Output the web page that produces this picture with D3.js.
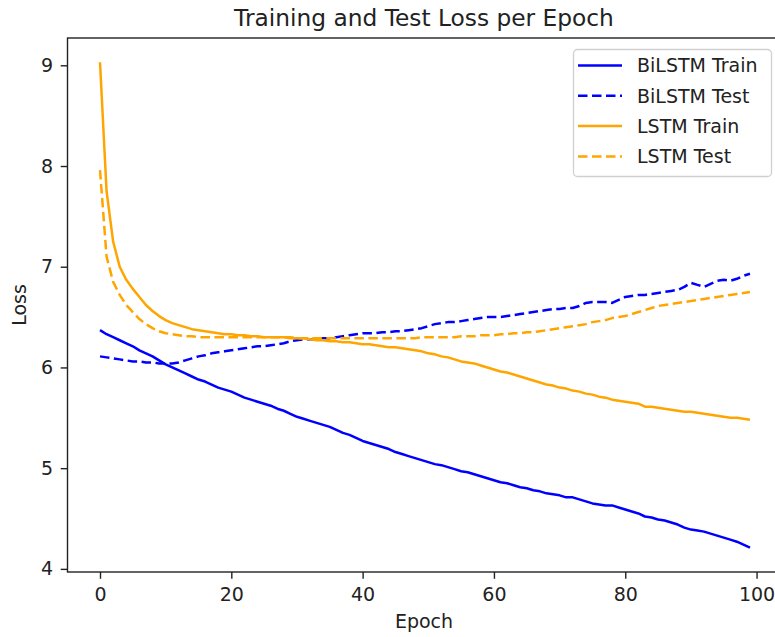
<!DOCTYPE html>
<html>
<head>
<meta charset="utf-8">
<script src="https://cdn.jsdelivr.net/npm/d3@7"></script>
<style>
  html, body { margin: 0; padding: 0; background: #fff; }
  svg { display: block; font-family: "DejaVu Sans", sans-serif; }
</style>
</head>
<body>
<div id="chart"></div>
<script>
// values, one per epoch (0..99)
const bilstmTrain = [
  6.37, 6.33, 6.30, 6.27, 6.24, 6.21, 6.17, 6.14, 6.11, 6.07,
  6.03, 6.00, 5.97, 5.94, 5.91, 5.88, 5.86, 5.83, 5.80, 5.78,
  5.76, 5.73, 5.70, 5.68, 5.66, 5.64, 5.62, 5.59, 5.57, 5.54,
  5.51, 5.49, 5.47, 5.45, 5.43, 5.41, 5.38, 5.35, 5.33, 5.30,
  5.27, 5.25, 5.23, 5.21, 5.19, 5.16, 5.14, 5.12, 5.10, 5.08,
  5.06, 5.04, 5.03, 5.01, 4.99, 4.97, 4.96, 4.94, 4.92, 4.90,
  4.88, 4.86, 4.85, 4.83, 4.81, 4.80, 4.78, 4.77, 4.75, 4.74,
  4.73, 4.71, 4.71, 4.69, 4.67, 4.65, 4.64, 4.63, 4.63, 4.61,
  4.59, 4.57, 4.55, 4.52, 4.51, 4.49, 4.48, 4.46, 4.44, 4.41,
  4.39, 4.38, 4.37, 4.35, 4.33, 4.31, 4.29, 4.27, 4.24, 4.21
];
const bilstmTest = [
  6.11, 6.10, 6.09, 6.08, 6.07, 6.06, 6.06, 6.05, 6.05, 6.04,
  6.04, 6.04, 6.05, 6.07, 6.09, 6.11, 6.12, 6.14, 6.15, 6.16,
  6.17, 6.18, 6.19, 6.20, 6.21, 6.21, 6.22, 6.23, 6.24, 6.26,
  6.27, 6.28, 6.28, 6.28, 6.29, 6.29, 6.30, 6.31, 6.32, 6.33,
  6.34, 6.34, 6.34, 6.35, 6.35, 6.36, 6.36, 6.37, 6.38, 6.39,
  6.41, 6.43, 6.44, 6.45, 6.45, 6.46, 6.47, 6.48, 6.49, 6.50,
  6.50, 6.50, 6.51, 6.52, 6.53, 6.54, 6.55, 6.56, 6.57, 6.58,
  6.58, 6.59, 6.59, 6.61, 6.64, 6.65, 6.65, 6.65, 6.64, 6.67,
  6.70, 6.71, 6.72, 6.72, 6.73, 6.74, 6.75, 6.76, 6.77, 6.80,
  6.84, 6.82, 6.80, 6.83, 6.86, 6.87, 6.86, 6.88, 6.91, 6.93
];
const lstmTrain = [
  9.03, 7.75, 7.25, 7.00, 6.87, 6.78, 6.70, 6.62, 6.56, 6.51,
  6.47, 6.44, 6.42, 6.40, 6.38, 6.37, 6.36, 6.35, 6.34, 6.33,
  6.33, 6.32, 6.32, 6.31, 6.31, 6.30, 6.30, 6.30, 6.30, 6.29,
  6.29, 6.29, 6.28, 6.27, 6.27, 6.26, 6.26, 6.25, 6.25, 6.24,
  6.23, 6.23, 6.22, 6.21, 6.20, 6.20, 6.19, 6.18, 6.17, 6.16,
  6.14, 6.13, 6.11, 6.10, 6.08, 6.06, 6.05, 6.04, 6.02, 6.00,
  5.98, 5.96, 5.95, 5.93, 5.91, 5.89, 5.87, 5.85, 5.83, 5.82,
  5.80, 5.79, 5.77, 5.76, 5.74, 5.73, 5.71, 5.70, 5.68, 5.67,
  5.66, 5.65, 5.64, 5.61, 5.61, 5.60, 5.59, 5.58, 5.57, 5.56,
  5.56, 5.55, 5.54, 5.53, 5.52, 5.51, 5.50, 5.50, 5.49, 5.48
];
const lstmTest = [
  7.96, 7.10, 6.85, 6.72, 6.62, 6.55, 6.48, 6.43, 6.39, 6.36,
  6.34, 6.33, 6.32, 6.31, 6.31, 6.30, 6.30, 6.30, 6.30, 6.30,
  6.30, 6.30, 6.30, 6.30, 6.30, 6.30, 6.30, 6.30, 6.30, 6.30,
  6.29, 6.29, 6.29, 6.29, 6.29, 6.29, 6.29, 6.29, 6.29, 6.29,
  6.29, 6.29, 6.29, 6.29, 6.29, 6.29, 6.29, 6.29, 6.29, 6.30,
  6.30, 6.30, 6.30, 6.30, 6.30, 6.31, 6.31, 6.31, 6.32, 6.32,
  6.32, 6.33, 6.33, 6.34, 6.34, 6.35, 6.35, 6.36, 6.37, 6.38,
  6.39, 6.40, 6.41, 6.42, 6.43, 6.45, 6.46, 6.47, 6.49, 6.50,
  6.51, 6.53, 6.55, 6.57, 6.59, 6.61, 6.62, 6.63, 6.64, 6.65,
  6.66, 6.67, 6.68, 6.69, 6.70, 6.71, 6.72, 6.73, 6.74, 6.75
];
const epochs = bilstmTrain.map((d, i) => i);
const xTicks = [0, 20, 40, 60, 80, 100];
const yTicks = [4, 5, 6, 7, 8, 9];

const seriesNames = ["BiLSTM Train", "BiLSTM Test", "LSTM Train", "LSTM Test"];
const seriesValues = [bilstmTrain, bilstmTest, lstmTrain, lstmTest];
const seriesColors = ["#0000ff", "#0000ff", "#ffa500", "#ffa500"];
const seriesDashed = [false, true, false, true];

const W = 775, H = 637;
const plot = { left: 67.5, top: 38, right: 782.5, bottom: 572 };
const fs = 19;
const lw = 2.5;
const dash = "9.5,4.5";

const svg = d3.select("#chart").append("svg")
  .attr("width", W).attr("height", H);

// matplotlib style 5% margins around the data
const xExt = d3.extent(epochs);
const xPad = (xExt[1] - xExt[0]) * 0.05;
const allVals = seriesValues.flat();
const yExt = d3.extent(allVals);
const yPad = (yExt[1] - yExt[0]) * 0.05;

const x = d3.scaleLinear()
  .domain([xExt[0] - xPad, xExt[1] + xPad])
  .range([plot.left, plot.right]);
const y = d3.scaleLinear()
  .domain([yExt[0] - yPad, yExt[1] + yPad])
  .range([plot.bottom, plot.top]);

svg.append("clipPath").attr("id", "plotclip")
  .append("rect")
  .attr("x", plot.left).attr("y", plot.top)
  .attr("width", plot.right - plot.left).attr("height", plot.bottom - plot.top);

const line = d3.line()
  .x((d, i) => x(epochs[i]))
  .y(d => y(d));

svg.append("g").attr("clip-path", "url(#plotclip)")
  .selectAll("path")
  .data(seriesValues)
  .enter()
  .append("path")
  .attr("d", d => line(d))
  .attr("fill", "none")
  .attr("stroke", (d, i) => seriesColors[i])
  .attr("stroke-width", lw)
  .attr("stroke-linejoin", "round")
  .attr("stroke-dasharray", (d, i) => seriesDashed[i] ? dash : null);

// axes
const xAxis = svg.append("g")
  .attr("transform", `translate(0,${plot.bottom})`)
  .call(d3.axisBottom(x).tickValues(xTicks).tickFormat(d3.format("d"))
    .tickSize(6.8).tickPadding(9));
const yAxis = svg.append("g")
  .attr("transform", `translate(${plot.left},0)`)
  .call(d3.axisLeft(y).tickValues(yTicks).tickFormat(d3.format("d"))
    .tickSize(6.8).tickPadding(7.5));

[xAxis, yAxis].forEach(g => {
  g.select(".domain").remove();
  g.selectAll(".tick line").attr("stroke", "#222").attr("stroke-width", 1.4);
  g.selectAll(".tick text")
    .attr("fill", "#222")
    .style("font-size", fs + "px")
    .style("font-family", "DejaVu Sans");
});

// spines (right one falls outside the picture)
svg.append("rect")
  .attr("x", plot.left).attr("y", plot.top)
  .attr("width", plot.right - plot.left).attr("height", plot.bottom - plot.top)
  .attr("fill", "none")
  .attr("stroke", "#222")
  .attr("stroke-width", 1.4);

// labels
svg.append("text")
  .attr("x", (plot.left + plot.right) / 2 - 1).attr("y", 26)
  .attr("text-anchor", "middle")
  .style("font-size", "23.3px")
  .attr("fill", "#222")
  .text("Training and Test Loss per Epoch");

svg.append("text")
  .attr("x", (plot.left + plot.right) / 2 - 1).attr("y", 628)
  .attr("text-anchor", "middle")
  .style("font-size", fs + "px")
  .attr("fill", "#222")
  .text("Epoch");

svg.append("text")
  .attr("transform", `translate(26,${(plot.top + plot.bottom) / 2}) rotate(-90)`)
  .attr("text-anchor", "middle")
  .style("font-size", fs + "px")
  .attr("fill", "#222")
  .text("Loss");

// legend
const lg = svg.append("g");
lg.append("rect")
  .attr("x", 573.5).attr("y", 49.5)
  .attr("width", 198).attr("height", 127)
  .attr("rx", 4).attr("ry", 4)
  .attr("fill", "rgba(255,255,255,0.8)")
  .attr("stroke", "#d0d0d0")
  .attr("stroke-width", 1.3);

const items = lg.selectAll("g.item")
  .data(seriesNames)
  .enter()
  .append("g")
  .attr("class", "item")
  .attr("transform", (d, i) => `translate(0,${65.5 + i * 30.3})`);

items.append("line")
  .attr("x1", 578).attr("x2", 622)
  .attr("y1", 0).attr("y2", 0)
  .attr("stroke", (d, i) => seriesColors[i])
  .attr("stroke-width", lw)
  .attr("stroke-dasharray", (d, i) => seriesDashed[i] ? dash : null);

items.append("text")
  .attr("x", 637).attr("y", 0)
  .attr("dy", "0.36em")
  .style("font-size", fs + "px")
  .attr("fill", "#222")
  .text(d => d);
</script>
</body>
</html>
